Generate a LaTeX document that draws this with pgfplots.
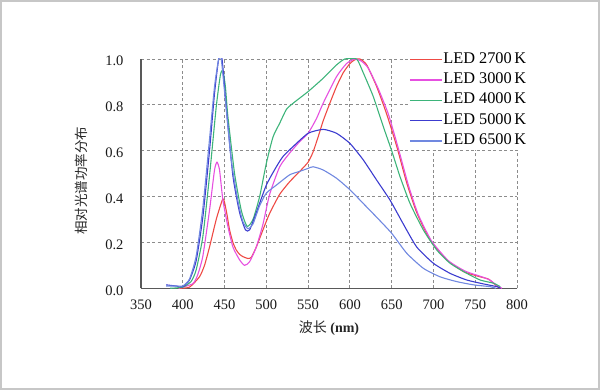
\documentclass[border=0pt]{standalone}
\usepackage{pgfplots}
\pgfplotsset{compat=1.18}
\usepackage{fontspec}
\setmainfont{Liberation Serif}
\newfontfamily\cjk{Noto Sans CJK SC}
\definecolor{cRed}{HTML}{EE4A44}
\definecolor{cMag}{HTML}{E650E0}
\definecolor{cGrn}{HTML}{3DB47A}
\definecolor{cDBl}{HTML}{3C3CCF}
\definecolor{cLBl}{HTML}{7088E0}
\begin{document}
\begin{tikzpicture}[x=1pt,y=1pt]
\useasboundingbox (0,0) rectangle (600,390);
\draw[line width=2pt, color=black!22] (1,1) rectangle (599,389);
\begin{axis}[
  at={(141pt,101.7pt)}, anchor=south west,
  scale only axis, width=376pt, height=229.3pt,
  xmin=350, xmax=800, ymin=0, ymax=1,
  xtick={350,400,450,500,550,600,650,700,750,800},
  xticklabels={350,400,450,500,550,600,650,700,750,800},
  ytick={0,0.2,0.4,0.6,0.8,1.0},
  yticklabels={0.0,0.2,0.4,0.6,0.8,1.0},
  /pgf/number format/assume math mode=true,
  axis lines=left,
  axis line style={-, color=black!65, line width=1.2pt},
  grid=major,
  major grid style={color=black!45, line width=0.8pt, dash pattern=on 3pt off 2.5pt},
  major tick length=0pt,
  tick label style={font=\fontsize{14.5}{16}\selectfont, color=black!90},
  xticklabel style={yshift=-8pt},
  yticklabel style={xshift=-14pt, yshift=-2pt},
  xlabel={{\cjk 波长} \textbf{(nm)}},
  xlabel style={at={(axis description cs:0.5,-0.174)}, anchor=center, font=\fontsize{14}{16}\selectfont, color=black!85},
  ylabel={\cjk 相对光谱功率分布},
  ylabel style={at={(axis description cs:-0.158,0.468)}, anchor=center, font=\fontsize{13.5}{16}\selectfont, color=black!85},
  legend style={at={(0.71,1.039)}, anchor=north west, draw=none, fill=white, inner sep=1pt,
    font=\fontsize{16.3}{18}\selectfont, row sep=3.3pt,
    nodes={inner sep=1pt, text height=11pt, text depth=4pt},
    /tikz/every even column/.append style={column sep=0pt}},
  legend cell align=left,
  legend image code/.code={\draw[#1, sharp plot, line width=1.2pt] (0pt,0pt) -- (32pt,0pt);},
  every axis plot/.append style={line width=1.1pt, smooth, tension=0.35},
]
% LED 2700 K
\addplot[cRed] coordinates {
(395,0.0)(408,0.005)(420,0.05)(426,0.10)(432,0.18)(440,0.30)(445,0.36)(448,0.39)(450,0.375)
(453,0.32)(456,0.255)(460,0.20)(464,0.167)(468,0.148)(472,0.138)(478,0.13)(482,0.135)
(488,0.18)(496,0.255)(504,0.327)(516,0.41)(528,0.465)(540,0.51)(550,0.55)(556,0.595)
(562,0.66)(568,0.73)(576,0.807)(584,0.88)(592,0.94)(600,0.98)(606,0.997)(612,1.0)
(620,0.975)(632,0.88)(644,0.76)(656,0.62)(668,0.46)(680,0.33)(696,0.21)(716,0.124)
(736,0.073)(756,0.05)(766,0.04)(774,0.015)(780,0.0)};
\addlegendentry{LED 2700\,K}
% LED 3000 K
\addplot[cMag] coordinates {
(395,0.0)(412,0.02)(418,0.06)(424,0.14)(432,0.34)(438,0.516)(441,0.55)(444,0.516)
(448,0.385)(454,0.27)(460,0.18)(468,0.124)(474,0.10)(480,0.116)(488,0.18)(496,0.28)
(504,0.41)(516,0.53)(528,0.59)(540,0.64)(550,0.676)(560,0.74)(568,0.807)(584,0.923)
(596,0.98)(606,1.0)(614,0.99)(622,0.96)(634,0.87)(646,0.76)(658,0.61)(670,0.45)
(682,0.32)(698,0.205)(718,0.12)(738,0.075)(758,0.05)(768,0.035)(776,0.012)(782,0.0)};
\addlegendentry{LED 3000\,K}
% LED 4000 K
\addplot[cGrn] coordinates {
(385,0.0)(400,0.005)(410,0.03)(416,0.08)(424,0.225)(432,0.49)(440,0.79)(445,0.93)
(448,0.95)(451,0.88)(454,0.75)(462,0.50)(470,0.34)(477,0.27)(484,0.30)(492,0.40)
(500,0.545)(508,0.66)(516,0.72)(524,0.78)(532,0.807)(550,0.858)(568,0.916)(584,0.974)
(594,1.0)(608,1.0)(616,0.94)(628,0.836)(640,0.705)(650,0.60)(660,0.487)(672,0.37)
(688,0.254)(704,0.167)(720,0.109)(740,0.065)(756,0.036)(772,0.022)(780,0.007)};
\addlegendentry{LED 4000\,K}
% LED 5000 K
\addplot[cDBl] coordinates {
(380,0.015)(392,0.01)(400,0.007)(408,0.036)(416,0.12)(424,0.31)(432,0.60)(438,0.85)
(443,1.0)(447,1.0)(452,0.79)(460,0.49)(468,0.33)(475,0.255)(480,0.255)(488,0.33)
(500,0.45)(512,0.53)(520,0.575)(532,0.618)(550,0.676)(568,0.693)(584,0.676)(600,0.632)
(616,0.56)(632,0.472)(648,0.385)(664,0.28)(680,0.18)(700,0.109)(720,0.065)(740,0.036)
(760,0.019)(776,0.007)(780,0.0)};
\addlegendentry{LED 5000\,K}
% LED 6500 K
\addplot[cLBl] coordinates {
(380,0.01)(392,0.01)(400,0.01)(408,0.04)(416,0.14)(424,0.35)(432,0.65)(438,0.88)
(443,1.0)(446,1.0)(451,0.82)(458,0.56)(466,0.38)(472,0.29)(478,0.26)(484,0.28)
(492,0.36)(500,0.415)(512,0.45)(528,0.495)(540,0.51)(550,0.523)(556,0.53)(568,0.516)
(584,0.48)(600,0.43)(616,0.37)(632,0.31)(650,0.24)(668,0.153)(688,0.087)(708,0.05)
(728,0.029)(748,0.015)(768,0.007)(775,0.0)};
\addlegendentry{LED 6500\,K}
\end{axis}
\end{tikzpicture}
\end{document}
